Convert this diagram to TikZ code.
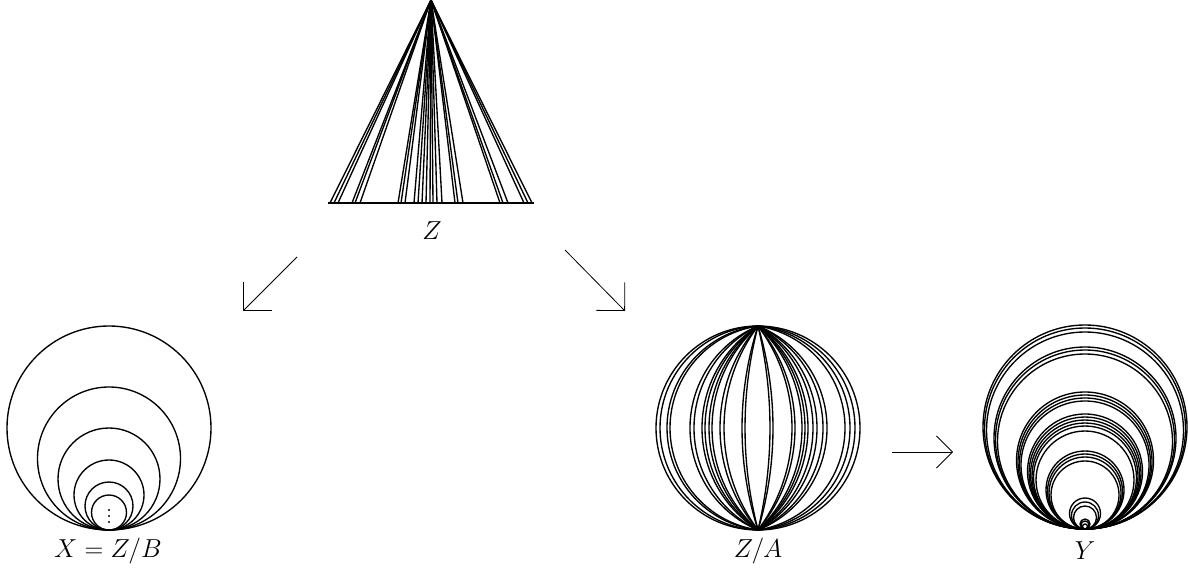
\documentclass[tikz,border=0pt]{standalone}
\usepackage{fix-cm}
\usetikzlibrary{arrows.meta}
\tikzset{
  curve/.style={line width=1.35pt},
  lbl/.style={font=\fontsize{26}{31}\selectfont, inner sep=0pt},
  dotmark/.style={fill=black, draw=none},
  bigarrow/.style={line width=0.8pt, -{Straight Barb[length=20pt,width=40pt,line width=0.8pt]}},
  smallarrow/.style={line width=0.8pt, -{Straight Barb[length=16pt,width=32pt,line width=0.8pt]}},
}
\begin{document}
\begin{tikzpicture}[x=1pt,y=-1pt]
\useasboundingbox (0,0) rectangle (1188,575);
% cone Z
\coordinate (apex) at (431,0);
\foreach \o in {-101,-97,-93,-79,-76,-71,-33,-30,-26,-17,-13,-9,-5,-1,2,6,11,24,27,32,69,72,77,93,97,101}
  \draw[curve] (apex) -- ++(\o,203);
\coordinate (bl) at (328,203);
\coordinate (br) at (534,203);
\draw[line width=2pt] (bl) -- (br);
\node[lbl] (zlab) at (432,231) {$Z$};
% arrows
\coordinate (a1s) at (297,257); \coordinate (a1e) at (243,311);
\coordinate (a2s) at (565,250); \coordinate (a2e) at (625,311);
\coordinate (a3s) at (892,452); \coordinate (a3e) at (953,452);
\draw[bigarrow] (a1s) -- (a1e);
\draw[bigarrow] (a2s) -- (a2e);
\draw[smallarrow] (a3s) -- (a3e);
% X = Z/B
\coordinate (xb) at (109,530);
\foreach \D in {204,143,102,70,48,35}
  \draw[curve] (xb) ++(0,-\D/2) circle[radius=\D/2];
\foreach \yy in {510,516,522}
  \fill[dotmark] (109,\yy) circle[radius=1.1];
\node[lbl] (xlab) at (108,551) {$X = Z/B$};
% Z/A sphere
\begin{scope}[shift={(758,428)}]
  \foreach \d in {12,15,34,37,44,47,50,55,59,65,69,87,92,97,102} {
    \pgfmathsetmacro\cc{(\d*\d-102*102)/(2*\d)}
    \pgfmathsetmacro\rr{\d-\cc}
    \pgfmathsetmacro\aa{atan2(102,-\cc)}
    \draw[curve] (\cc,0) ++(-\aa:\rr) arc[start angle=-\aa, end angle=\aa, radius=\rr];
  }
  \begin{scope}[xscale=-1]
  \foreach \d in {13,16,34,38,46,49,53,56,64,68,88,91,98,102} {
    \pgfmathsetmacro\cc{(\d*\d-102*102)/(2*\d)}
    \pgfmathsetmacro\rr{\d-\cc}
    \pgfmathsetmacro\aa{atan2(102,-\cc)}
    \draw[curve] (\cc,0) ++(-\aa:\rr) arc[start angle=-\aa, end angle=\aa, radius=\rr];
  }
  \end{scope}
\end{scope}
\node[lbl] (zalab) at (758,551) {$Z/A$};
% Y
\coordinate (yb) at (1085,529);
\foreach \D in {204,201,197,182,179,175,137,134,131,128,115,112,109,106,103,98,78,75,72,68,31,27,23,10,8,5}
  \draw[curve] (yb) ++(0,-\D/2) circle[radius=\D/2];
\node[lbl] (ylab) at (1085,551) {$Y$};
\end{tikzpicture}
\end{document}
